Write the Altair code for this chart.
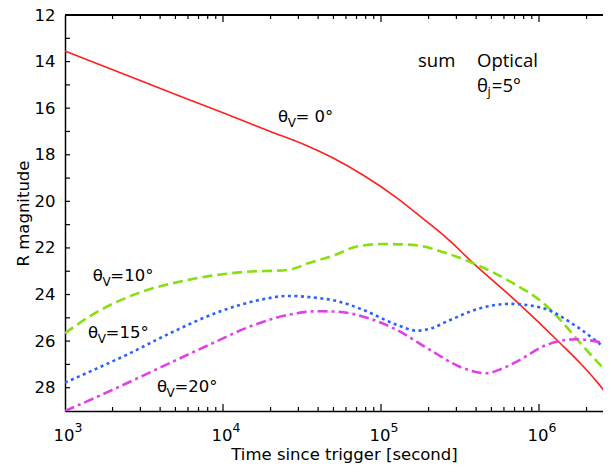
import altair as alt
import pandas as pd

# ---- data: log10(time [s]) and R magnitude ----
red_logt = [3.0, 3.5, 4.0, 4.3, 4.52, 4.7, 4.886, 5.10, 5.26, 5.42, 5.582, 5.867, 6.133, 6.26, 6.367, 6.456]
red_mag = [13.55, 14.88, 16.2, 17.0, 17.58, 18.15, 18.87, 19.85, 20.71, 21.6, 22.64, 24.36, 26.08, 26.94, 27.75, 28.52]

green_logt = [3.0, 3.19, 3.464, 3.78, 4.118, 4.413, 4.54, 4.709, 4.846, 5.015, 5.20, 5.416, 5.584, 5.837, 6.027, 6.154, 6.28, 6.456]
green_mag = [25.66, 24.80, 23.94, 23.37, 23.04, 22.94, 22.66, 22.30, 21.94, 21.83, 21.87, 22.23, 22.66, 23.52, 24.37, 25.23, 26.23, 27.52]

blue_logt = [3.0, 3.2, 3.39, 3.665, 3.98, 4.234, 4.413, 4.6, 4.709, 4.888, 5.10, 5.226, 5.32, 5.416, 5.627, 5.816, 6.027, 6.239, 6.456]
blue_mag = [27.78, 27.18, 26.59, 25.66, 24.73, 24.23, 24.06, 24.15, 24.26, 24.66, 25.30, 25.55, 25.45, 25.16, 24.59, 24.40, 24.59, 25.38, 26.52]

mag_logt = [3.0, 3.253, 3.57, 3.886, 4.2, 4.413, 4.6, 4.709, 4.888, 5.10, 5.31, 5.52, 5.669, 5.76, 5.859, 6.049, 6.239, 6.456]
mag_mag = [29.0, 28.24, 27.24, 26.24, 25.30, 24.87, 24.72, 24.73, 24.95, 25.52, 26.38, 27.16, 27.38, 27.2, 26.88, 26.16, 25.92, 26.16]

# curve labels (theta_V = ...)
label_t = [2.23e4, 1.50e3, 1.40e3, 3.82e3]
label_mag = [16.59, 23.42, 25.87, 28.19]
label_sub = ["V", "V", "V", "V"]
label_rest = ["= 0°", "=10°", "=15°", "=20°"]

# corner texts
sum_t, sum_mag = [1.714e5], [14.23]
opt_t, opt_mag = [4.055e5], [14.23]
thj_t, thj_mag = [4.055e5], [15.31]

# axis ticks / labels
ytick_vals = list(range(13, 29))
ylabel_vals = list(range(12, 29, 2))
xdecades = [1e3, 1e4, 1e5, 1e6]
xdecade_sup = ["3", "4", "5", "6"]
xmajor_ticks = [1e4, 1e5, 1e6]
xminor_ticks = [m * 10 ** k for k in range(3, 7) for m in range(2, 10) if m * 10 ** k < 2.5e6]

W, H = 538, 396
XMIN, XMAX = 1e3, 10 ** (3 + W / 158)
FONT = "DejaVu Sans"
FS = 16.5


def frame(logt, mag):
    return pd.DataFrame({"t": [10 ** v for v in logt], "mag": mag})


xs = alt.Scale(type="log", domain=[XMIN, XMAX], nice=False)
ys = alt.Scale(domain=[12, 29], reverse=True, nice=False, zero=False)

x_axis = alt.Axis(
    title="Time since trigger [second]", labels=False, ticks=False, grid=False,
    domain=True, domainColor="black", domainWidth=1.5,
    titleFont=FONT, titleFontSize=FS, titleFontWeight="normal", titleColor="black",
    titleX=279, titleY=48, titleBaseline="alphabetic", titleAlign="center",
)
y_axis = alt.Axis(
    title="R magnitude", values=ylabel_vals, ticks=False, grid=False,
    domain=True, domainColor="black", domainWidth=1.5,
    labelFont=FONT, labelFontSize=FS, labelColor="black", labelPadding=10,
    titleFont=FONT, titleFontSize=FS, titleFontWeight="normal", titleColor="black",
    titleX=-34, titleY=198, titleAngle=270, titleBaseline="bottom", titleAlign="center",
)
X = alt.X("t:Q", scale=xs, axis=x_axis)
Y = alt.Y("mag:Q", scale=ys, axis=y_axis)


def line(df, color, width, dash=None):
    kw = dict(color=color, strokeWidth=width, interpolate="monotone", clip=True)
    if dash is not None:
        kw["strokeDash"] = dash
    return alt.Chart(df).mark_line(**kw).encode(x=X, y=Y)


red = line(frame(red_logt, red_mag), "#ff1f1f", 1.6)
green = line(frame(green_logt, green_mag), "#86e010", 2.6, [10, 5])
blue = line(frame(blue_logt, blue_mag), "#2a62ff", 2.6, [3, 3.5])
magenta = line(frame(mag_logt, mag_mag), "#e040ea", 2.6, [10, 4, 3, 4])

# inward ticks
ydf = pd.DataFrame({"mag": ytick_vals})
yt_left = alt.Chart(ydf).mark_rule(color="black", strokeWidth=1.2).encode(
    y=Y, x=alt.value(0), x2=alt.value(5))
xmaj = pd.DataFrame({"t": xmajor_ticks})
xmin_ = pd.DataFrame({"t": xminor_ticks})
xt_bot_maj = alt.Chart(xmaj).mark_rule(color="black", strokeWidth=1.2).encode(
    x=X, y=alt.value(H), y2=alt.value(H - 7))
xt_top_maj = alt.Chart(xmaj).mark_rule(color="black", strokeWidth=1.2).encode(
    x=X, y=alt.value(0), y2=alt.value(7))
xt_bot_min = alt.Chart(xmin_).mark_rule(color="black", strokeWidth=1.2).encode(
    x=X, y=alt.value(H), y2=alt.value(H - 4))
xt_top_min = alt.Chart(xmin_).mark_rule(color="black", strokeWidth=1.2).encode(
    x=X, y=alt.value(0), y2=alt.value(4))
top_line = alt.Chart(ydf).mark_rule(color="black", strokeWidth=1.5).encode(
    y=alt.value(0), x=alt.value(0), x2=alt.value(W))

# x tick labels 10^n
xl = pd.DataFrame({"t": xdecades, "sup": xdecade_sup})
xlab_base = alt.Chart(xl).mark_text(
    font=FONT, fontSize=FS, color="black", align="center", baseline="alphabetic", dx=-1
).encode(x=X, y=alt.value(H + 30), text=alt.value("10"))
xlab_sup = alt.Chart(xl).mark_text(
    font=FONT, fontSize=12.5, color="black", align="left", baseline="alphabetic", dx=9.5
).encode(x=X, y=alt.value(H + 21), text="sup:N")

# curve labels
ldf = pd.DataFrame({"t": label_t, "mag": label_mag, "sub": label_sub, "rest": label_rest})
lab_theta = alt.Chart(ldf).mark_text(
    font=FONT, fontSize=FS, color="black", align="left", baseline="alphabetic"
).encode(x=X, y=Y, text=alt.value("θ"))
lab_sub = alt.Chart(ldf).mark_text(
    font=FONT, fontSize=12, color="black", align="left", baseline="alphabetic", dx=9.6, dy=5
).encode(x=X, y=Y, text="sub:N")
lab_rest = alt.Chart(ldf).mark_text(
    font=FONT, fontSize=FS, color="black", align="left", baseline="alphabetic", dx=17.5
).encode(x=X, y=Y, text="rest:N")

OF = "Open Sans"
OFS = 18.5
sum_txt = alt.Chart(pd.DataFrame({"t": sum_t, "mag": sum_mag})).mark_text(
    font=OF, fontSize=OFS, color="black", align="left", baseline="alphabetic"
).encode(x=X, y=Y, text=alt.value("sum"))
opt_txt = alt.Chart(pd.DataFrame({"t": opt_t, "mag": opt_mag})).mark_text(
    font=OF, fontSize=OFS, color="black", align="left", baseline="alphabetic"
).encode(x=X, y=Y, text=alt.value("Optical"))
thj_df = pd.DataFrame({"t": thj_t, "mag": thj_mag})
thj_a = alt.Chart(thj_df).mark_text(
    font=OF, fontSize=OFS, color="black", align="left", baseline="alphabetic"
).encode(x=X, y=Y, text=alt.value("θ"))
thj_b = alt.Chart(thj_df).mark_text(
    font=OF, fontSize=13, color="black", align="left", baseline="alphabetic", dx=10.5, dy=4
).encode(x=X, y=Y, text=alt.value("j"))
thj_c = alt.Chart(thj_df).mark_text(
    font=OF, fontSize=OFS, color="black", align="left", baseline="alphabetic", dx=14.8
).encode(x=X, y=Y, text=alt.value("=5°"))

chart = alt.layer(
    red, green, blue, magenta,
    yt_left, xt_bot_maj, xt_top_maj, xt_bot_min, xt_top_min, top_line,
    xlab_base, xlab_sup,
    lab_theta, lab_sub, lab_rest,
    sum_txt, opt_txt, thj_a, thj_b, thj_c,
).properties(
    width=W, height=H,
    autosize=alt.AutoSizeParams(type="none"),
    padding={"left": 57, "top": 7, "right": 0, "bottom": 53},
    background="white",
).configure_view(stroke=None)

chart.save("out.html", embed_options={"renderer": "svg", "actions": False})
